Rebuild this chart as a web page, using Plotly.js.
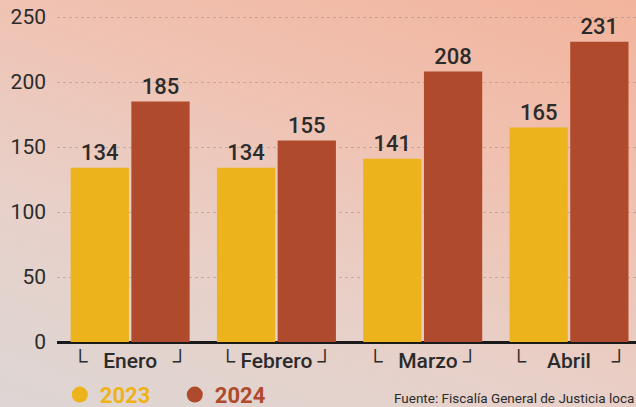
<!DOCTYPE html>
<html>
<head>
<meta charset="utf-8">
<script src="https://cdn.plot.ly/plotly-3.0.1.min.js"></script>
<style>
  html, body { margin: 0; padding: 0; }
  body {
    width: 636px; height: 407px; overflow: hidden;
    background: linear-gradient(200deg, #f2b49c 0%, #f0c2b2 35%, #e8d0c8 65%, #ddd6d4 100%);
  }
  #chart { width: 636px; height: 407px; }
</style>
</head>
<body>
<div id="chart"></div>
<script>
const months = ["Enero", "Febrero", "Marzo", "Abril"];
const monthLabels = ["└   Enero   ┘", "└ Febrero ┘", "└   Marzo ┘", "└    Abril    ┘"];
const values2023 = [134, 134, 141, 165];
const values2024 = [185, 155, 208, 231];
const yTicks = [0, 50, 100, 150, 200, 250];
const source = "Fuente: Fiscalía General de Justicia loca";

const col2023 = "#ecb31c";
const col2024 = "#b04a2c";
const fam = "Roboto, 'Open Sans', sans-serif";
const labelFont = { family: fam, size: 22, color: "#2b2b2b", weight: 500 };

const traces = [
  { type: "bar", x: months, y: values2023, marker: { color: col2023 },
    text: values2023.map(String), textposition: "outside", cliponaxis: false,
    textfont: labelFont, showlegend: false, hoverinfo: "skip" },
  { type: "bar", x: months, y: values2024, marker: { color: col2024 },
    text: values2024.map(String), textposition: "outside", cliponaxis: false,
    textfont: labelFont, showlegend: false, hoverinfo: "skip" },
  { type: "scatter", mode: "markers", x: [null], y: [null],
    marker: { color: col2023, size: 18, symbol: "circle" },
    name: '<b><span style="color:' + col2023 + '">2023</span></b>' },
  { type: "scatter", mode: "markers", x: [null], y: [null],
    marker: { color: col2024, size: 18, symbol: "circle" },
    name: '<b><span style="color:' + col2024 + '">2024</span></b>' }
];

const layout = {
  width: 636, height: 407,
  margin: { l: 57, r: 0, t: 4, b: 65 },
  paper_bgcolor: "rgba(0,0,0,0)",
  plot_bgcolor: "rgba(0,0,0,0)",
  barmode: "group",
  bargap: 0.17,
  bargroupgap: 0.04,
  xaxis: {
    type: "category",
    range: [-0.5, 3.458],
    tickvals: months, ticktext: monthLabels,
    showgrid: false, zeroline: false, showline: false, ticks: "",
    automargin: false,
    ticklabelstandoff: 4,
    tickfont: { family: fam, size: 21, color: "#2b2b2b", weight: 500 },
    fixedrange: true
  },
  yaxis: {
    range: [0, 260],
    tickvals: yTicks,
    ticktext: yTicks.map(String),
    showgrid: true, gridcolor: "rgba(150,130,130,0.45)", griddash: "dot", gridwidth: 1,
    zeroline: true, zerolinecolor: "#1a1a1a", zerolinewidth: 3,
    showline: false, ticks: "",
    automargin: false,
    ticklabelstandoff: 10,
    tickfont: { family: fam, size: 21, color: "#2b2b2b" },
    fixedrange: true
  },
  legend: {
    orientation: "h", xref: "container", yref: "container",
    x: 0.094, y: 0.03, xanchor: "left", yanchor: "middle",
    bgcolor: "rgba(0,0,0,0)",
    font: { family: fam, size: 22 },
    itemwidth: 30, tracegroupgap: 0, entrywidth: 70
  },
  annotations: [{
    text: source, xref: "paper", yref: "paper", x: 1, y: -0.135,
    xanchor: "right", yanchor: "top", showarrow: false,
    font: { family: fam, size: 13.5, color: "#2b2b2b" }
  }],
  showlegend: true
};

Plotly.newPlot("chart", traces, layout, { displayModeBar: false, staticPlot: true });
</script>
</body>
</html>
